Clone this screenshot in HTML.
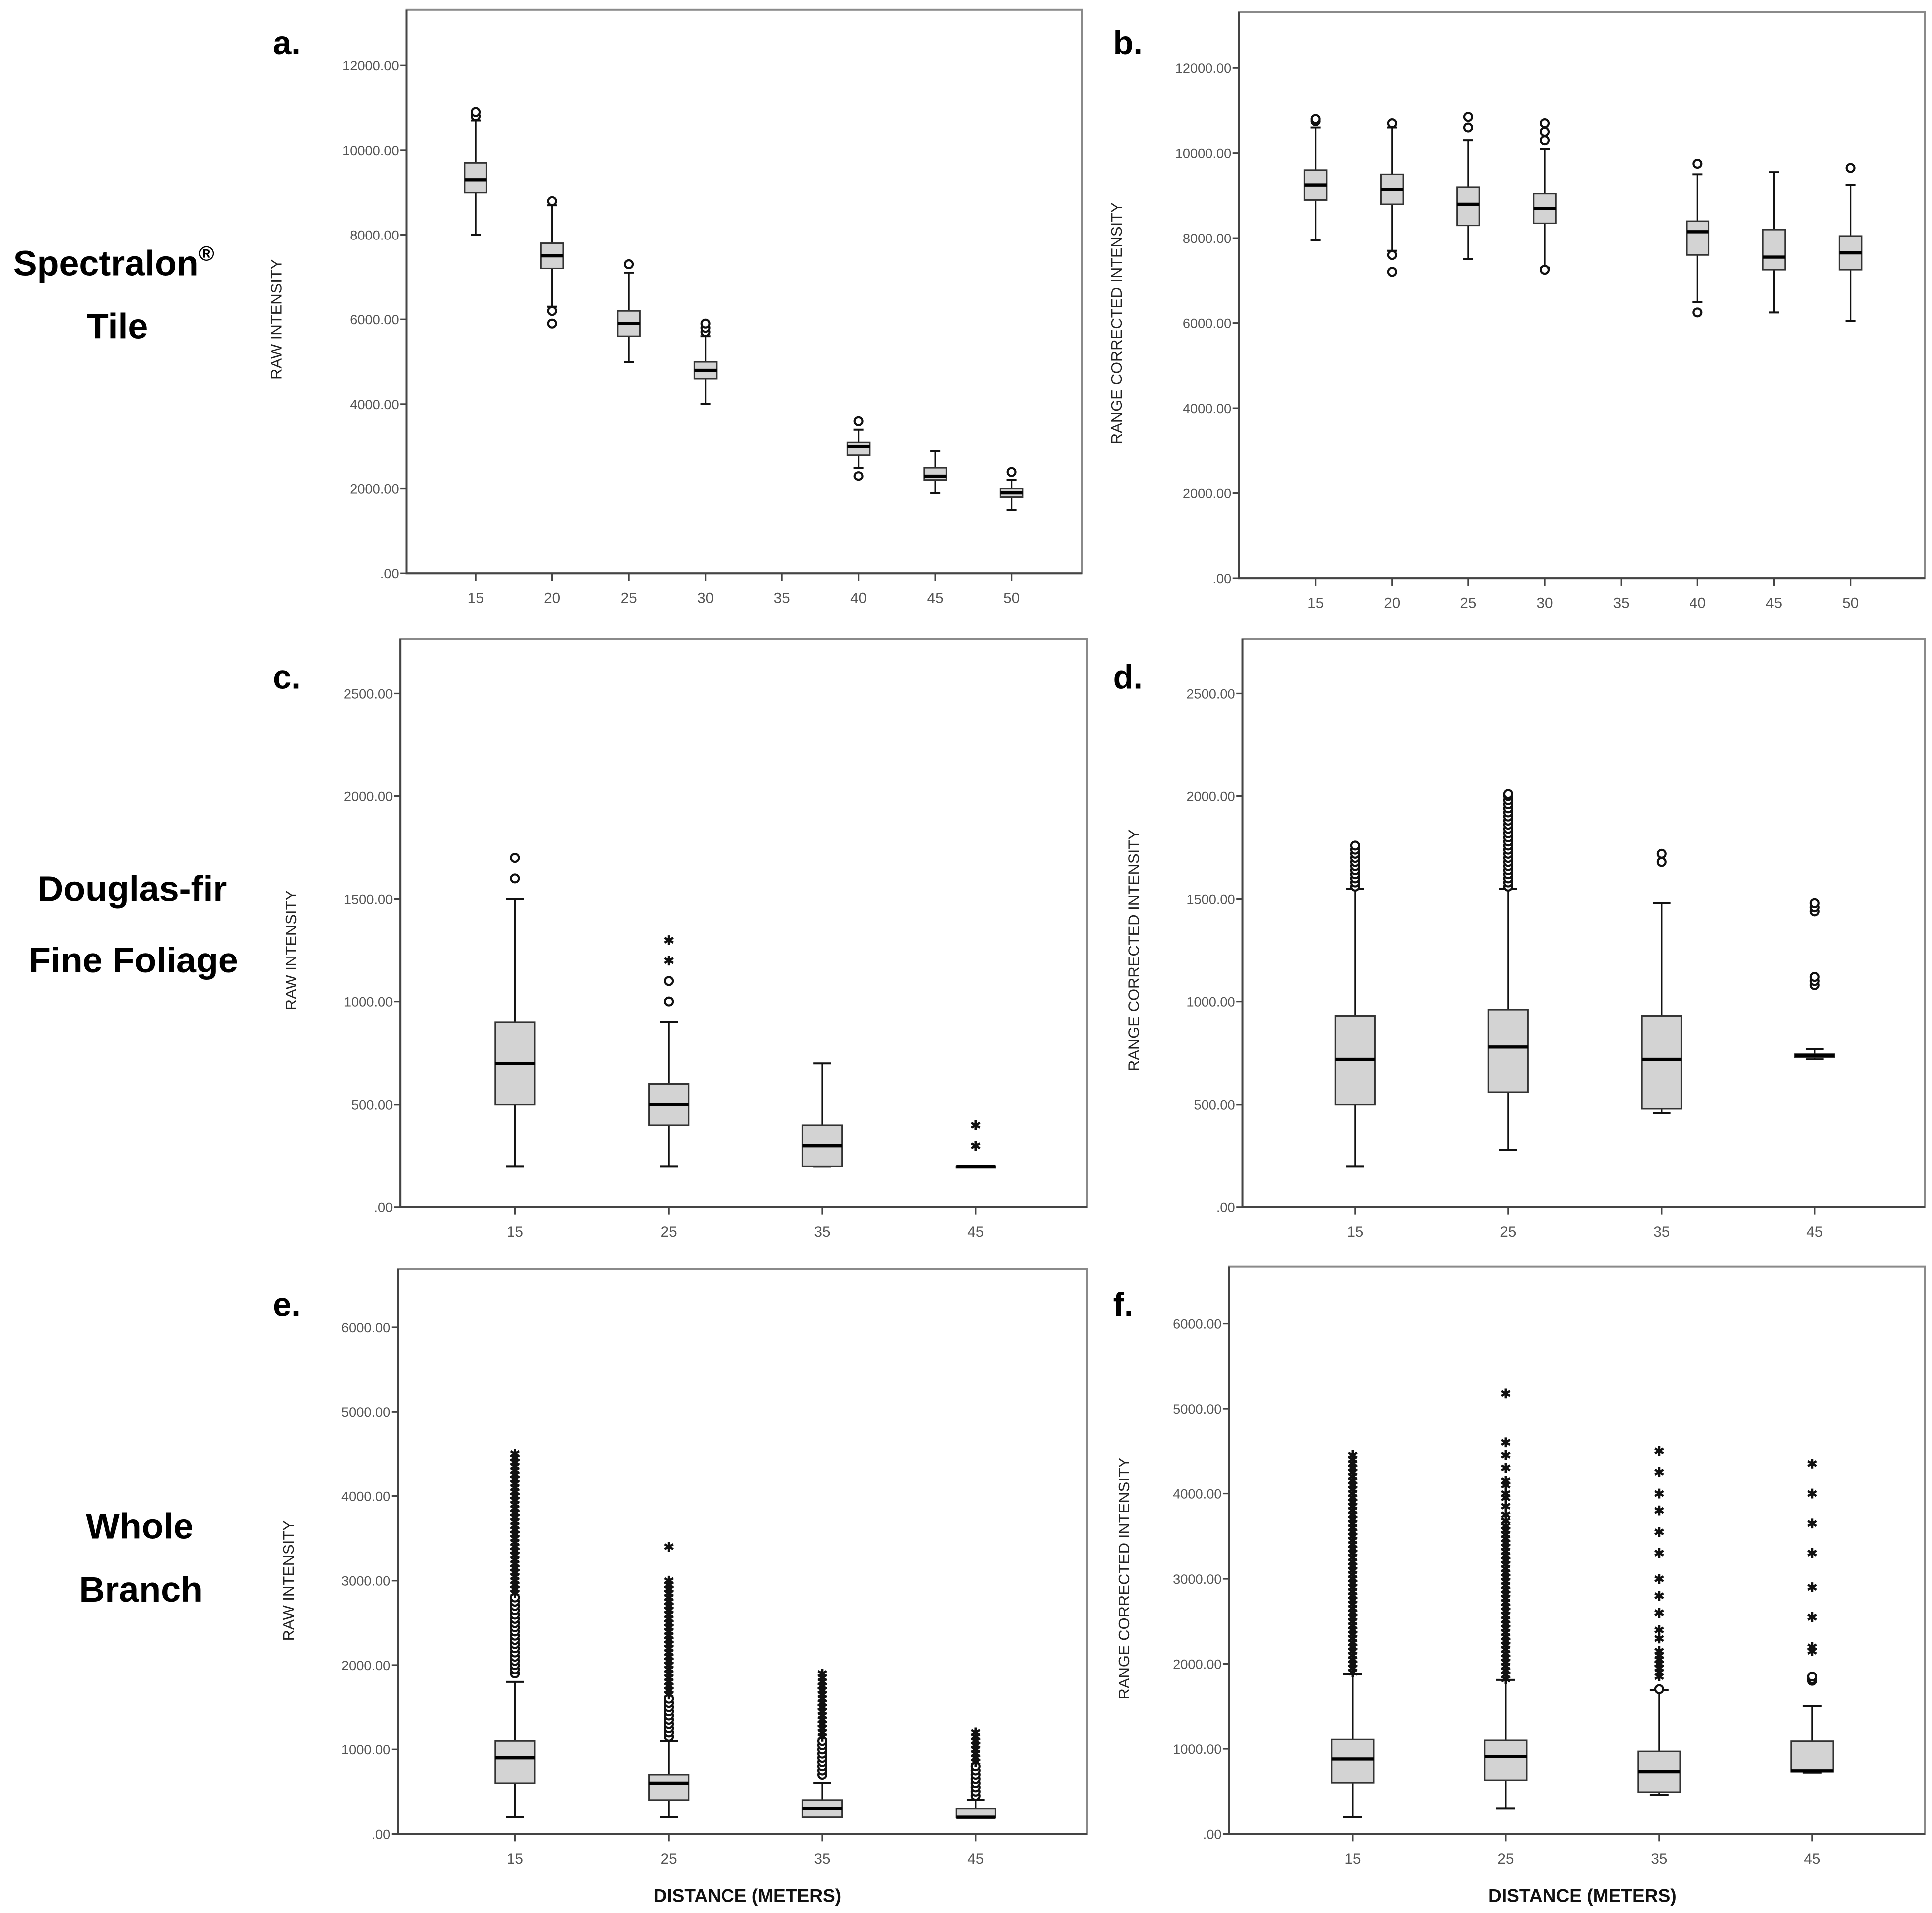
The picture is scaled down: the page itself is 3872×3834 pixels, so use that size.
<!DOCTYPE html>
<html><head><meta charset="utf-8"><style>
html,body{margin:0;padding:0;background:#fff;}
svg{display:block;}
</style></head><body>
<svg id="fig" xmlns="http://www.w3.org/2000/svg" width="3872" height="3834" viewBox="0 0 1564 1548" preserveAspectRatio="none">
<rect x="0" y="0" width="1564" height="1548" fill="#fff"/>
<g font-family="Liberation Sans, sans-serif" font-weight="bold" font-size="29" fill="#000" text-anchor="middle">
<text x="92" y="223">Spectralon<tspan font-size="17" dy="-12">®</tspan></text>
<text x="95" y="274">Tile</text>
<text x="107" y="729">Douglas-fir</text>
<text x="108" y="787">Fine Foliage</text>
<text x="113" y="1245">Whole</text>
<text x="114" y="1296">Branch</text>
</g>
<g font-family="Liberation Sans, sans-serif" font-weight="bold" font-size="27" fill="#000">
<text x="221" y="44">a.</text>
<text x="901" y="44">b.</text>
<text x="221" y="557">c.</text>
<text x="901" y="557">d.</text>
<text x="221" y="1065">e.</text>
<text x="901" y="1065">f.</text>
</g>
<g font-family="Liberation Sans, sans-serif" font-weight="bold" font-size="15" fill="#111" text-anchor="middle">
<text x="605" y="1539">DISTANCE (METERS)</text>
<text x="1281" y="1539">DISTANCE (METERS)</text>
</g>
</svg>
<script>
// ---- data ----
const catsA = [15,20,25,30,35,40,45,50];
const statsA = [ // [whiskLo, q1, median, q3, whiskHi] ; null = no box
 [8000,9000,9300,9700,10700],[6300,7200,7500,7800,8700],[5000,5600,5900,6200,7100],[4000,4600,4800,5000,5600],
 null,[2500,2800,3000,3100,3400],[1900,2200,2300,2500,2900],[1500,1800,1900,2000,2200]];
const outCircA = [[10800,10900],[8800,6200,5900],[7300],[5700,5800,5900],[],[3600,2300],[],[2400]];
const outStarA = [[],[],[],[],[],[],[],[]];

const catsB = [15,20,25,30,35,40,45,50];
const statsB = [
 [7950,8900,9250,9600,10600],[7700,8800,9150,9500,10600],[7500,8300,8800,9200,10300],[7300,8350,8700,9050,10100],
 null,[6500,7600,8150,8400,9500],[6250,7250,7550,8200,9550],[6050,7250,7650,8050,9250]];
const outCircB = [[10750,10800],[10700,7600,7200],[10600,10850],[10300,10500,10700,7250],[],[9750,6250],[],[9650]];
const outStarB = [[],[],[],[],[],[],[],[]];

const catsC = [15,25,35,45];
const statsC = [[200,500,700,900,1500],[200,400,500,600,900],[200,200,300,400,700],[200,200,200,200,200]];
const outCircC = [[1600,1700],[1000,1100],[],[]];
const outStarC = [[],[1200,1300],[],[300,400]];

const catsD = [15,25,35,45];
const statsD = [[200,500,720,930,1550],[280,560,780,960,1550],[460,480,720,930,1480],[720,730,740,745,770]];
const outCircD = [
 [1560,1580,1600,1620,1640,1660,1680,1700,1720,1740,1760],
 [1560,1580,1600,1620,1640,1660,1680,1700,1720,1740,1760,1780,1800,1820,1840,1860,1880,1900,1920,1940,1960,1980,2000,2010],
 [1680,1720],
 [1080,1100,1120,1440,1460,1480]];
const outStarD = [[],[],[],[]];

const catsE = [15,25,35,45];
const statsE = [[200,600,900,1100,1800],[200,400,600,700,1100],[200,200,300,400,600],[200,200,200,300,400]];
const outCircE = [
 [1900,1950,2000,2050,2100,2150,2200,2250,2300,2350,2400,2450,2500,2550,2600,2650,2700,2750,2800],
 [1150,1200,1250,1300,1350,1400,1450,1500,1550,1600],
 [700,750,800,850,900,950,1000,1050,1100],
 [450,500,550,600,650,700,750,800]];
const outStarE = [
 [2850,2900,2950,3000,3050,3100,3150,3200,3250,3300,3350,3400,3450,3500,3550,3600,3650,3700,3750,3800,3850,3900,3950,4000,4050,4100,4150,4200,4250,4300,4350,4400,4450,4500],
 [1650,1700,1750,1800,1850,1900,1950,2000,2050,2100,2150,2200,2250,2300,2350,2400,2450,2500,2550,2600,2650,2700,2750,2800,2850,2900,2950,3000,3400],
 [1150,1200,1250,1300,1350,1400,1450,1500,1550,1600,1650,1700,1750,1800,1850,1900],
 [850,900,950,1000,1050,1100,1150,1200]];

const catsF = [15,25,35,45];
const statsF = [[200,600,880,1110,1880],[300,630,910,1100,1810],[460,490,730,970,1690],[720,730,740,1090,1500]];
const outCircF = [[],[],[1700],[1800,1820,1850]];
const outStarF = [
 [1900,1950,2000,2050,2100,2150,2200,2250,2300,2350,2400,2450,2500,2550,2600,2650,2700,2750,2800,2850,2900,2950,3000,3050,3100,3150,3200,3250,3300,3350,3400,3450,3500,3550,3600,3650,3700,3750,3800,3850,3900,3950,4000,4050,4100,4150,4200,4250,4300,4350,4400,4450],
 [1820,1870,1920,1970,2020,2070,2120,2170,2220,2270,2320,2370,2420,2470,2520,2570,2620,2670,2720,2770,2820,2870,2920,2970,3020,3070,3120,3170,3220,3270,3320,3370,3420,3470,3520,3570,3620,3680,3750,3850,3950,4000,4100,4150,4300,4450,4600,5180],
 [1850,1900,1950,2000,2050,2100,2150,2300,2400,2600,2800,3000,3300,3550,3800,4000,4250,4500],
 [2150,2200,2550,2900,3300,3650,4000,4350]];

const yTicksA = [0,2000,4000,6000,8000,10000,12000];
const yTicksC = [0,500,1000,1500,2000,2500];
const yTicksE = [0,1000,2000,3000,4000,5000,6000];

// ---- layout ----
const panels = [
 {id:'a', cats:catsA, stats:statsA, oc:outCircA, os:outStarA, ticks:yTicksA, yMax:12000, L:329,T:8,R:876,B:464, yTopPx:53, x0:385,x1:819, bw:18, title:'RAW INTENSITY', tx:228},
 {id:'b', cats:catsB, stats:statsB, oc:outCircB, os:outStarB, ticks:yTicksA, yMax:12000, L:1003,T:10,R:1558,B:468, yTopPx:55, x0:1065,x1:1498, bw:18, title:'RANGE CORRECTED INTENSITY', tx:908},
 {id:'c', cats:catsC, stats:statsC, oc:outCircC, os:outStarC, ticks:yTicksC, yMax:2500, L:324,T:517,R:880,B:977, yTopPx:561, x0:417,x1:790, bw:32, title:'RAW INTENSITY', tx:240},
 {id:'d', cats:catsD, stats:statsD, oc:outCircD, os:outStarD, ticks:yTicksC, yMax:2500, L:1006,T:517,R:1558,B:977, yTopPx:561, x0:1097,x1:1469, bw:32, title:'RANGE CORRECTED INTENSITY', tx:922},
 {id:'e', cats:catsE, stats:statsE, oc:outCircE, os:outStarE, ticks:yTicksE, yMax:6000, L:322,T:1027,R:880,B:1484, yTopPx:1074, x0:417,x1:790, bw:32, title:'RAW INTENSITY', tx:238},
 {id:'f', cats:catsF, stats:statsF, oc:outCircF, os:outStarF, ticks:yTicksE, yMax:6000, L:995,T:1025,R:1558,B:1484, yTopPx:1071, x0:1095,x1:1467, bw:34, title:'RANGE CORRECTED INTENSITY', tx:914}
];
const NS='http://www.w3.org/2000/svg';
const svg=document.getElementById('fig');
function mk(tag,attrs,parent){const e=document.createElementNS(NS,tag);for(const k in attrs)e.setAttribute(k,attrs[k]);(parent||svg).appendChild(e);return e;}
function fmt(v){return v===0?'.00':v.toFixed(2);}

panels.forEach(p=>{
 const g=mk('g',{});
 
 
 const y=v=>p.B-(v/p.yMax)*(p.B-p.yTopPx);
 const c0=p.cats[0], c1=p.cats[p.cats.length-1];
 const x=c=>p.x0+(c-c0)/(c1-c0)*(p.x1-p.x0);
 const frame=mk('rect',{x:p.L,y:p.T,width:p.R-p.L,height:p.B-p.T,fill:'none',stroke:'#8a8a8a','stroke-width':1.6},g);
 
 
 const ax=mk('path',{d:`M${p.L},${p.T} L${p.L},${p.B} L${p.R},${p.B}`,fill:'none',stroke:'#444','stroke-width':1.6},g);
 
 
 p.ticks.forEach(t=>{
  mk('line',{x1:p.L-5,x2:p.L,y1:y(t),y2:y(t),stroke:'#444','stroke-width':1.3},g);
  const tl=mk('text',{x:p.L-6,y:y(t)+4,'font-family':'Liberation Sans, sans-serif','font-size':11,fill:'#555','text-anchor':'end'},g);
  tl.textContent=fmt(t);
  
  
 });
 p.cats.forEach((c,i)=>{
  const cx=x(c);
  mk('line',{x1:cx,x2:cx,y1:p.B,y2:p.B+6,stroke:'#444','stroke-width':1.3},g);
  const xl=mk('text',{x:cx,y:p.B+24,'font-family':'Liberation Sans, sans-serif','font-size':12,fill:'#555','text-anchor':'middle'},g);
  xl.textContent=c;
  
  
  const s=p.stats[i];
  if(s){
   const bg=mk('g',{},g);
   
   
   const hw=p.bw/2, cap=hw*0.45;
   mk('line',{x1:cx,x2:cx,y1:y(s[0]),y2:y(s[4]),stroke:'#111','stroke-width':1.3},bg);
   mk('line',{x1:cx-cap,x2:cx+cap,y1:y(s[0]),y2:y(s[0]),stroke:'#111','stroke-width':1.6},bg);
   mk('line',{x1:cx-cap,x2:cx+cap,y1:y(s[4]),y2:y(s[4]),stroke:'#111','stroke-width':1.6},bg);
   mk('rect',{x:cx-hw,y:y(s[3]),width:p.bw,height:Math.max(1,y(s[1])-y(s[3])),fill:'#d3d3d3',stroke:'#333','stroke-width':1.2},bg);
   mk('line',{x1:cx-hw,x2:cx+hw,y1:y(s[2]),y2:y(s[2]),stroke:'#000','stroke-width':2.6},bg);
  }
  p.oc[i].forEach(v=>{
   const o=mk('circle',{cx:cx,cy:y(v),r:3.2,fill:'#fff',stroke:'#111','stroke-width':1.7},g);
   
   
  });
  p.os[i].forEach(v=>{
   const yy=y(v), r=4;
   const st=mk('path',{d:`M${cx},${yy-r} L${cx},${yy+r} M${cx-r*0.87},${yy-r/2} L${cx+r*0.87},${yy+r/2} M${cx-r*0.87},${yy+r/2} L${cx+r*0.87},${yy-r/2}`,stroke:'#111','stroke-width':1.9,fill:'none'},g);
   
   
  });
 });
 const cy=(p.T+p.B)/2+ (p.yTopPx-p.T)/2;
 const tt=mk('text',{x:p.tx,y:cy,'font-family':'Liberation Sans, sans-serif','font-size':12.5,fill:'#222','text-anchor':'middle',transform:`rotate(-90 ${p.tx} ${cy})`},g);
 tt.textContent=p.title;
 
 
});
</script>
</body></html>
